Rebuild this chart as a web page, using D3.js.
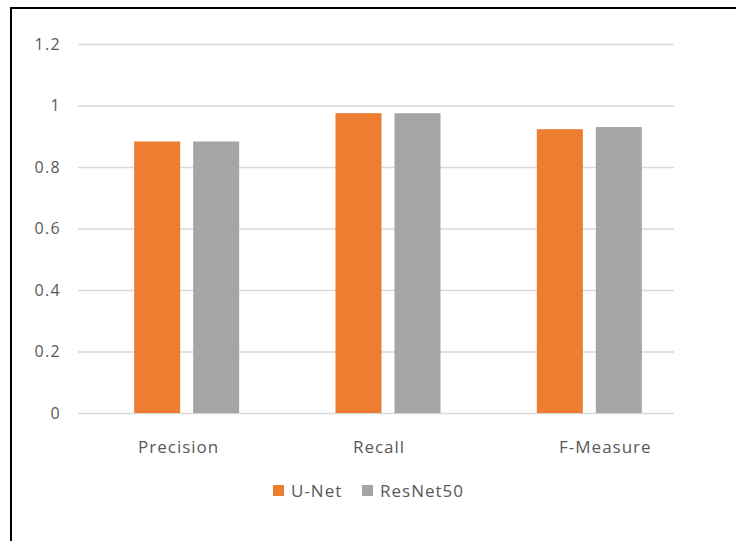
<!DOCTYPE html>
<html>
<head>
<meta charset="utf-8">
<script src="https://cdn.jsdelivr.net/npm/d3@7"></script>
<style>
  body { margin: 0; background: #fff; }
  svg text { font-family: "Open Sans", sans-serif; fill: #595959; }
</style>
</head>
<body>
<div id="chart"></div>
<script>
// data
var categories = ["Precision", "Recall", "F-Measure"];
var seriesNames = ["U-Net", "ResNet50"];
var unetValues = [0.883, 0.975, 0.923];
var resnetValues = [0.883, 0.975, 0.930];
var yTicks = [0, 0.2, 0.4, 0.6, 0.8, 1, 1.2];

var colors = { "U-Net": "#ED7D31", "ResNet50": "#A5A5A5" };

var width = 736, height = 541;
var plot = { left: 78, right: 674, top: 44, bottom: 413 };
// the category labels are not quite centred under the bars in the original
var labelShift = [-8, -9, 16];

var svg = d3.select("#chart").append("svg")
	.attr("width", width)
	.attr("height", height);

// outer frame (only left and top edges visible in the shot)
svg.append("rect")
	.attr("x", 11).attr("y", 8)
	.attr("width", 740).attr("height", 560)
	.attr("fill", "none")
	.attr("stroke", "#000")
	.attr("stroke-width", 2);

var y = d3.scaleLinear().domain([0, 1.2]).range([plot.bottom, plot.top]);

// bars sit a little right of the gridline centre in the reference
var x = d3.scaleBand().domain(categories).range([86, 690]);
var xInner = d3.scaleBand().domain(seriesNames)
	.range([x.bandwidth() / 2 - 52.5, x.bandwidth() / 2 + 52.5])
	.paddingInner(0.22);

// gridlines
var yAxis = d3.axisLeft(y)
	.tickValues(yTicks)
	.tickSize(-(plot.right - plot.left))
	.tickPadding(17)
	.tickFormat(function(d) { return d3.format("")(d); });

var gAxis = svg.append("g")
	.attr("transform", "translate(" + plot.left + ",0)")
	.call(yAxis);
gAxis.select(".domain").remove();
gAxis.selectAll(".tick line").attr("stroke", "#D9D9D9").attr("stroke-width", 1.5);
gAxis.selectAll(".tick text")
	.attr("font-size", 16)
	.attr("letter-spacing", 1.3);

// bars
var rows = categories.map(function(c, i) {
	return { cat: c, values: [
		{ name: "U-Net", v: unetValues[i] },
		{ name: "ResNet50", v: resnetValues[i] }
	]};
});

var groups = svg.append("g").selectAll("g")
	.data(rows)
	.join("g")
	.attr("transform", function(d) { return "translate(" + x(d.cat) + ",0)"; });

groups.selectAll("rect")
	.data(function(d) { return d.values; })
	.join("rect")
	.attr("x", function(d) { return xInner(d.name); })
	.attr("width", xInner.bandwidth())
	.attr("y", function(d) { return y(d.v); })
	.attr("height", function(d) { return y(0) - y(d.v); })
	.attr("fill", function(d) { return colors[d.name]; });

// category labels
svg.append("g").selectAll("text")
	.data(categories)
	.join("text")
	.attr("x", function(d, i) { return x(d) + x.bandwidth() / 2 + labelShift[i]; })
	.attr("y", 453)
	.attr("text-anchor", "middle")
	.attr("font-size", 17)
	.attr("letter-spacing", 1)
	.text(function(d) { return d; });

// legend
var legendPos = [273, 362];
var legend = svg.append("g").selectAll("g")
	.data(seriesNames)
	.join("g")
	.attr("transform", function(d, i) { return "translate(" + legendPos[i] + ",0)"; });

legend.append("rect")
	.attr("x", 0).attr("y", 485)
	.attr("width", 11).attr("height", 11)
	.attr("fill", function(d) { return colors[d]; });

legend.append("text")
	.attr("x", 18).attr("y", 497)
	.attr("font-size", 17)
	.attr("letter-spacing", 1)
	.text(function(d) { return d; });
</script>
</body>
</html>
